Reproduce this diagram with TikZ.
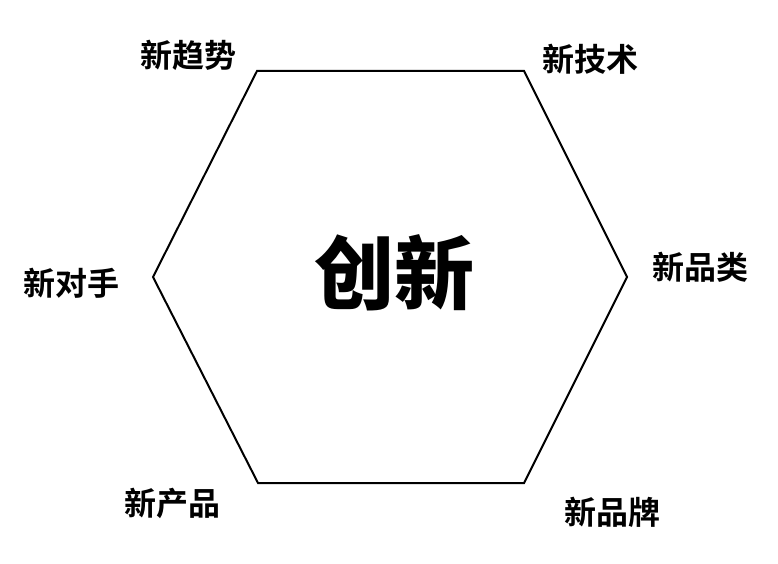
\documentclass[tikz,border=0pt]{standalone}
\usepackage{fontspec}
\newfontfamily\cjk{Noto Sans CJK SC}[BoldFont={* Bold}]
\newfontfamily\cjkheavy{Noto Sans CJK SC Black}
\tikzset{
  tag/.style={font=\cjk\bfseries\fontsize{32}{32}\selectfont, inner sep=0pt},
  core/.style={font=\cjkheavy\fontsize{80}{80}\selectfont, inner sep=0pt}
}
\begin{document}
\begin{tikzpicture}[x=1pt,y=-1pt]
  \useasboundingbox (0,0) rectangle (778,564);
  % hexagon corners
  \coordinate (tl) at (257,71);
  \coordinate (tr) at (524,71);
  \coordinate (r) at (627,277);
  \coordinate (br) at (524,483);
  \coordinate (bl) at (258,483);
  \coordinate (l) at (153,277);
  \draw[line width=2pt, line join=miter] (tl) -- (tr) -- (r) -- (br) -- (bl) -- (l) -- cycle;
  \node[core] (center) at (394,273) {创新};
  \node[tag] (trend) at (188,55) {新趋势};
  \node[tag] (tech) at (590,59) {新技术};
  \node[tag] (cat) at (700,267) {新品类};
  \node[tag] (rival) at (71,283) {新对手};
  \node[tag] (prod) at (172,503) {新产品};
  \node[tag] (brand) at (612,512) {新品牌};
\end{tikzpicture}
\end{document}
